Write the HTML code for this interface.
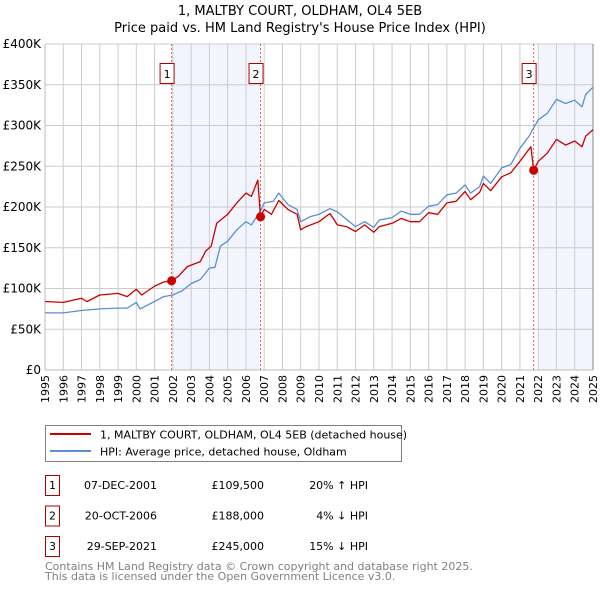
<!DOCTYPE html>
<html><head><meta charset="utf-8"><style>
body{margin:0;background:#fff;font-family:"DejaVu Sans","Liberation Sans",sans-serif;}
svg text{font-family:"DejaVu Sans","Liberation Sans",sans-serif;}
</style></head><body>
<svg id="c" width="600" height="590" viewBox="0 0 600 590" xmlns="http://www.w3.org/2000/svg">
<text x="300" y="15" text-anchor="middle" font-size="13">1, MALTBY COURT, OLDHAM, OL4 5EB</text>
<text x="300" y="32" text-anchor="middle" font-size="13">Price paid vs. HM Land Registry's House Price Index (HPI)</text>
<g id="plot"></g>
<rect x="45.5" y="425.5" width="356" height="36" fill="#fff" stroke="#808080"/>
<line x1="50" y1="434" x2="91" y2="434" stroke="#cc0000" stroke-width="2"/>
<text x="100" y="438.5" font-size="11">1, MALTBY COURT, OLDHAM, OL4 5EB (detached house)</text>
<line x1="50" y1="451" x2="91" y2="451" stroke="#5b8ed6" stroke-width="2"/>
<text x="100" y="455.5" font-size="11">HPI: Average price, detached house, Oldham</text>
<g id="table" font-size="11"></g>
<text x="45" y="570" font-size="11" fill="#808080">Contains HM Land Registry data © Crown copyright and database right 2025.</text>
<text x="45" y="580" font-size="11" fill="#808080">This data is licensed under the Open Government Licence v3.0.</text>
</svg>
<script>
const yearTicks=[1995,1996,1997,1998,1999,2000,2001,2002,2003,2004,2005,2006,2007,2008,2009,2010,2011,2012,2013,2014,2015,2016,2017,2018,2019,2020,2021,2022,2023,2024,2025];
const valueTicks=[0,50,100,150,200,250,300,350,400];
const valueTickLabels=["£0","£50K","£100K","£150K","£200K","£250K","£300K","£350K","£400K"];
const hpiYears=[1995,1996,1997,1998,1999,1999.5,2000,2000.2,2001,2001.5,2002,2002.5,2003,2003.5,2004,2004.3,2004.6,2005,2005.5,2006,2006.3,2006.8,2007,2007.5,2007.8,2008.3,2008.8,2009,2009.5,2010,2010.6,2011,2011.5,2012,2012.5,2013,2013.3,2014,2014.5,2015,2015.5,2016,2016.5,2017,2017.5,2018,2018.3,2018.8,2019,2019.4,2020,2020.5,2021,2021.5,2022,2022.5,2023,2023.5,2024,2024.4,2024.6,2025];
const hpiValues=[70,70,73,75,76,76,83,75,84,90,92,97,106,111,125,126,152,158,172,182,178,195,205,207,217,203,197,182,188,191,198,194,185,176,182,175,184,187,195,191,191,201,203,215,217,227,217,225,238,229,248,252,272,287,307,315,332,327,331,323,338,347];
const priceYears=[1995,1996,1997,1997.3,1998,1999,1999.5,2000,2000.3,2001,2001.5,2001.93,2002.3,2002.8,2003.5,2003.8,2004.1,2004.4,2005,2005.5,2006,2006.3,2006.65,2006.8,2007,2007.4,2007.8,2008.3,2008.8,2009,2009.3,2010,2010.6,2011,2011.5,2012,2012.5,2013,2013.3,2014,2014.5,2015,2015.5,2016,2016.5,2017,2017.5,2018,2018.3,2018.8,2019,2019.4,2020,2020.5,2021,2021.6,2021.75,2022,2022.5,2023,2023.5,2024,2024.4,2024.6,2025];
const priceValues=[84,83,88,84,92,94,90,99,92,103,108,109.5,115,127,133,146,152,180,191,205,217,213,233,188,197,191,208,197,191,172,176,182,192,178,176,170,178,169,176,180,186,182,182,193,191,205,207,219,209,218,229,220,237,242,256,274,245,256,266,283,276,281,274,287,295];
const saleLabels=["1","2","3"];
const saleYears=[2001.93,2006.8,2021.75];
const saleValues=[109.5,188,245];
const saleDates=["07-DEC-2001","20-OCT-2006","29-SEP-2021"];
const salePrices=["£109,500","£188,000","£245,000"];
const saleHpi=["20% ↑ HPI","4% ↓ HPI","15% ↓ HPI"];

const NS="http://www.w3.org/2000/svg";
const X0=45,X1=593,Y0=370,Y1=44;
const xs=y=>X0+(y-1995)/30*(X1-X0);
const ys=v=>Y0-v/400*(Y0-Y1);
const plot=document.getElementById('plot');
function mk(tag,attrs,parent){const e=document.createElementNS(NS,tag);for(const k in attrs)e.setAttribute(k,attrs[k]);(parent||plot).appendChild(e);return e;}
let s1=mk('rect',{x:xs(saleYears[0]),y:Y1,width:xs(saleYears[1])-xs(saleYears[0]),height:Y0-Y1,fill:'#f2f5fd'});


let s2=mk('rect',{x:xs(2022),y:Y1,width:X1-xs(2022),height:Y0-Y1,fill:'#f2f5fd'});


yearTicks.forEach(t=>{
  const l=mk('line',{x1:xs(t),x2:xs(t),y1:Y1,y2:Y0,stroke:'#cccccc','stroke-width':1});
  
  
  const tx=mk('text',{x:0,y:0,'font-size':11,'text-anchor':'end',transform:`translate(${xs(t)+4},375) rotate(-90)`});
  tx.textContent=t;
  
  
});
valueTicks.forEach((v,i)=>{
  const l=mk('line',{x1:X0,x2:X1,y1:ys(v),y2:ys(v),stroke:'#cccccc','stroke-width':1});
  
  
  const tx=mk('text',{x:41,y:ys(v)+4,'font-size':12,'text-anchor':'end'});
  tx.textContent=valueTickLabels[i];
  
  
});
let ra=mk('line',{x1:X1,x2:X1,y1:Y1,y2:Y0,stroke:'#888','stroke-width':1});


let la=mk('line',{x1:X0,x2:X0,y1:Y1,y2:Y0,stroke:'#bbb','stroke-width':1});


let ba=mk('line',{x1:X0,x2:X1,y1:Y0,y2:Y0,stroke:'#bbb','stroke-width':1});


saleYears.forEach((y,i)=>{
  const l=mk('line',{x1:xs(y),x2:xs(y),y1:Y1,y2:Y0,stroke:'#e06060','stroke-width':1,'stroke-dasharray':'2,2'});
  
  
});
function line(xa,va,color,name){
  const d=xa.map((x,i)=>(i?'L':'M')+xs(x).toFixed(1)+','+ys(va[i]).toFixed(1)).join('');
  const p=mk('path',{d:d,fill:'none',stroke:color,'stroke-width':1.3,'stroke-linejoin':'round'});
  
  
}
line(hpiYears,hpiValues,'#5b8ed6','hpi-line');
line(priceYears,priceValues,'#cc0000','price-line');
saleYears.forEach((y,i)=>{
  const c=mk('circle',{cx:xs(y),cy:ys(saleValues[i]),r:4.5,fill:'#cc0000'});
  
  
  const r=mk('rect',{x:xs(y)-11.5,y:63.5,width:14,height:20,fill:'#fff',stroke:'#aa0000'});
  
  
  const t=mk('text',{x:xs(y)-4.5,y:78,'font-size':11,'text-anchor':'middle'});
  t.textContent=saleLabels[i];
  
  
});
const tb=document.getElementById('table');
saleLabels.forEach((lab,i)=>{
  const y=475+i*30.5;
  const r=mk('rect',{x:45.5,y:y+0.5,width:14,height:20,fill:'#fff',stroke:'#aa0000'},tb);
  
  
  const t=mk('text',{x:52.5,y:y+14,'text-anchor':'middle'},tb);t.textContent=lab;
  
  
  const d=mk('text',{x:157,y:y+14,'text-anchor':'end'},tb);d.textContent=saleDates[i];
  
  
  const p=mk('text',{x:264,y:y+14,'text-anchor':'end'},tb);p.textContent=salePrices[i];
  
  
  const h=mk('text',{x:368,y:y+14,'text-anchor':'end'},tb);h.textContent=saleHpi[i];
  
  
});
</script>
</body></html>
